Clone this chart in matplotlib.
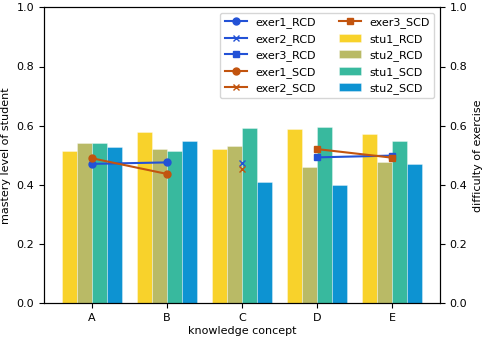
import numpy as np
import matplotlib
matplotlib.use("Agg")
import matplotlib.pyplot as plt

# ---------------------------------------------------------------------
# DATA
# ---------------------------------------------------------------------
concepts = ["A", "B", "C", "D", "E"]

stu1_rcd = [0.513, 0.580, 0.520, 0.590, 0.571]
stu2_rcd = [0.541, 0.520, 0.530, 0.460, 0.478]
stu1_scd = [0.543, 0.513, 0.593, 0.597, 0.550]
stu2_scd = [0.527, 0.549, 0.410, 0.398, 0.470]

exer1_idx = [0, 1]
exer1_rcd = [0.471, 0.476]
exer1_scd = [0.490, 0.437]

exer2_idx = [2]
exer2_rcd = [0.474]
exer2_scd = [0.454]

exer3_idx = [3, 4]
exer3_rcd = [0.493, 0.499]
exer3_scd = [0.521, 0.492]

# ---------------------------------------------------------------------
# PLOT
# ---------------------------------------------------------------------
plt.rcParams["font.size"] = 8

fig = plt.figure(figsize=(4.85, 3.41), dpi=100)
ax = fig.add_axes([44 / 485, 1 - 303.3 / 341, (440 - 44) / 485, (303.3 - 7.3) / 341])

x = np.arange(len(concepts))
w = 0.2
bar_colors = ["#F8D22B", "#B9BA66", "#38B99E", "#0D93D2"]
bar_data = [stu1_rcd, stu2_rcd, stu1_scd, stu2_scd]
bar_names = ["stu1_RCD", "stu2_RCD", "stu1_SCD", "stu2_SCD"]
bars = []
for i, (vals, c, name) in enumerate(zip(bar_data, bar_colors, bar_names)):
    b = ax.bar(x + (i - 1.5) * w, vals, w, color=c, label=name,
               edgecolor=(1, 1, 1, 0.4), linewidth=0.6)
    bars.append(b)

ax.set_ylim(0, 1.0)
ax.set_xticks(x)
ax.set_xticklabels(concepts)
ax.set_xlabel("knowledge concept", labelpad=2)
ax.set_ylabel("mastery level of student")

ax2 = ax.twinx()
blue = "#2352D6"
orange = "#C2540F"
l1, = ax2.plot(exer1_idx, exer1_rcd, color=blue, marker="o", ms=5, lw=1.5, label="exer1_RCD")
l2, = ax2.plot(exer2_idx, exer2_rcd, color=blue, marker="x", ms=5, lw=1.5, label="exer2_RCD")
l3, = ax2.plot(exer3_idx, exer3_rcd, color=blue, marker="s", ms=5, lw=1.5, label="exer3_RCD")
l4, = ax2.plot(exer1_idx, exer1_scd, color=orange, marker="o", ms=5, lw=1.5, label="exer1_SCD")
l5, = ax2.plot(exer2_idx, exer2_scd, color=orange, marker="x", ms=5, lw=1.5, label="exer2_SCD")
l6, = ax2.plot(exer3_idx, exer3_scd, color=orange, marker="s", ms=5, lw=1.5, label="exer3_SCD")
ax2.set_ylim(0, 1.0)
ax2.set_ylabel("difficulty of exercise")

handles = [l1, l2, l3, l4, l5, l6] + bars
ax2.legend(handles=handles, loc="upper right", ncol=2, fontsize=8)

fig.savefig("out.png", dpi=100)
